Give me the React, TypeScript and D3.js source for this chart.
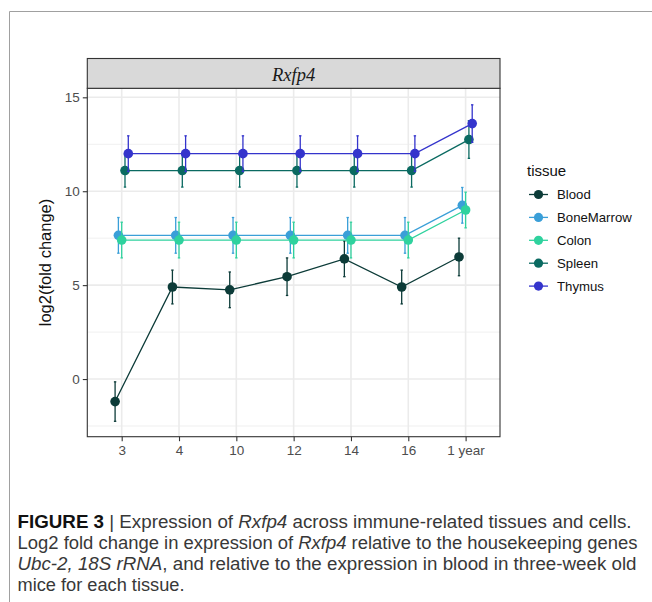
import React, { useEffect, useRef } from 'react';
import * as d3 from 'd3';

const categories = ['3', '4', '10', '12', '14', '16', '1 year'];
const tissues = ['Blood', 'BoneMarrow', 'Colon', 'Spleen', 'Thymus'];
const tissueColors = ['#0c3b38', '#3a9fd8', '#2fd29e', '#0a6a61', '#3434cc'];

const blood = [-1.2, 4.9, 4.75, 5.45, 6.4, 4.9, 6.5];
const bloodErr = [1.05, 0.9, 0.95, 1.0, 0.95, 0.9, 1.0];
const boneMarrow = [7.65, 7.65, 7.65, 7.65, 7.65, 7.65, 9.25];
const boneMarrowErr = [0.95, 0.95, 0.95, 0.95, 0.95, 0.95, 0.95];
const colon = [7.4, 7.4, 7.4, 7.4, 7.4, 7.4, 9.0];
const colonErr = [0.95, 0.95, 0.95, 0.95, 0.95, 0.95, 0.95];
const spleen = [11.1, 11.1, 11.1, 11.1, 11.1, 11.1, 12.75];
const spleenErr = [0.88, 0.88, 0.88, 0.88, 0.88, 0.88, 1.0];
const thymus = [12.0, 12.0, 12.0, 12.0, 12.0, 12.0, 13.6];
const thymusErr = [0.95, 0.95, 0.95, 0.95, 0.95, 0.95, 1.0];

const yTicks = [0, 5, 10, 15];
const yMinor = [-2.5, 2.5, 7.5, 12.5];

const captionLines = [
  [
    { t: 'FIGURE 3', w: 'bold', s: 'normal', c: '#111' },
    { t: ' | Expression of ', w: 'normal', s: 'normal', c: '#383838' },
    { t: 'Rxfp4', w: 'normal', s: 'italic', c: '#383838' },
    { t: ' across immune-related tissues and cells.', w: 'normal', s: 'normal', c: '#383838' },
  ],
  [
    { t: 'Log2 fold change in expression of ', w: 'normal', s: 'normal', c: '#383838' },
    { t: 'Rxfp4', w: 'normal', s: 'italic', c: '#383838' },
    { t: ' relative to the housekeeping genes', w: 'normal', s: 'normal', c: '#383838' },
  ],
  [
    { t: 'Ubc-2, 18S rRNA', w: 'normal', s: 'italic', c: '#383838' },
    { t: ', and relative to the expression in blood in three-week old', w: 'normal', s: 'normal', c: '#383838' },
  ],
  [{ t: 'mice for each tissue.', w: 'normal', s: 'normal', c: '#383838' }],
];
const captionWidths = [614, 620, 619, 167];

export default function App() {
  const svgRef = useRef<SVGSVGElement>(null);

  useEffect(() => {
    const svg = d3.select(svgRef.current);
    svg.selectAll('*').remove();

    const panel = { left: 87.3, right: 500, top: 88.3, bottom: 436.7 };
    const sans = 'Liberation Sans, Arial, Helvetica, sans-serif';

    const series = [
      { values: blood, err: bloodErr },
      { values: boneMarrow, err: boneMarrowErr },
      { values: colon, err: colonErr },
      { values: spleen, err: spleenErr },
      { values: thymus, err: thymusErr },
    ];

    const x = d3
      .scalePoint()
      .domain(categories)
      .range([panel.left, panel.right])
      .padding(0.6);
    const y = d3
      .scaleLinear()
      .domain([-3.07, 15.48])
      .range([panel.bottom, panel.top]);
    const dodge = (i) => (i - 2) * 3.3;

    // outer frame
    svg
      .append('path')
      .attr('d', 'M9.5,602 L9.5,11.5 L652,11.5')
      .attr('fill', 'none')
      .attr('stroke', '#a0a0a0')
      .attr('stroke-width', 1);

    // panel background + grid
    svg
      .append('rect')
      .attr('x', panel.left)
      .attr('y', panel.top)
      .attr('width', panel.right - panel.left)
      .attr('height', panel.bottom - panel.top)
      .attr('fill', '#fff');

    const grid = svg.append('g');
    grid
      .selectAll('.minor')
      .data(yMinor)
      .join('line')
      .attr('x1', panel.left)
      .attr('x2', panel.right)
      .attr('y1', (d) => y(d))
      .attr('y2', (d) => y(d))
      .attr('stroke', '#ececec')
      .attr('stroke-width', 0.8);
    grid
      .selectAll('.major')
      .data(yTicks)
      .join('line')
      .attr('x1', panel.left)
      .attr('x2', panel.right)
      .attr('y1', (d) => y(d))
      .attr('y2', (d) => y(d))
      .attr('stroke', '#ebebeb')
      .attr('stroke-width', 1.6);
    grid
      .selectAll('.xg')
      .data(categories)
      .join('line')
      .attr('x1', (d) => x(d))
      .attr('x2', (d) => x(d))
      .attr('y1', panel.top)
      .attr('y2', panel.bottom)
      .attr('stroke', '#ebebeb')
      .attr('stroke-width', 1.6);

    // series
    const line = d3
      .line()
      .x((d) => d[0])
      .y((d) => d[1]);
    const marks = svg.append('g');
    series.forEach((s, i) => {
      const pts = s.values.map((v, j) => [x(categories[j]) + dodge(i), y(v)]);
      const g = marks.append('g');
      g.append('path')
        .attr('d', line(pts))
        .attr('fill', 'none')
        .attr('stroke', tissueColors[i])
        .attr('stroke-width', 1.3);
      const eb = g
        .selectAll('.eb')
        .data(s.values)
        .join('g')
        .attr('stroke', tissueColors[i])
        .attr('stroke-width', 1.3);
      eb.append('line')
        .attr('x1', (d, j) => x(categories[j]) + dodge(i))
        .attr('x2', (d, j) => x(categories[j]) + dodge(i))
        .attr('y1', (d, j) => y(d + s.err[j]))
        .attr('y2', (d, j) => y(d - s.err[j]));
      [1, -1].forEach((sign) => {
        eb.append('line')
          .attr('x1', (d, j) => x(categories[j]) + dodge(i) - 1.2)
          .attr('x2', (d, j) => x(categories[j]) + dodge(i) + 1.2)
          .attr('y1', (d, j) => y(d + sign * s.err[j]))
          .attr('y2', (d, j) => y(d + sign * s.err[j]));
      });
      g.selectAll('circle')
        .data(pts)
        .join('circle')
        .attr('cx', (d) => d[0])
        .attr('cy', (d) => d[1])
        .attr('r', 4.8)
        .attr('fill', tissueColors[i]);
    });

    // panel border + strip
    svg
      .append('rect')
      .attr('x', panel.left)
      .attr('y', panel.top)
      .attr('width', panel.right - panel.left)
      .attr('height', panel.bottom - panel.top)
      .attr('fill', 'none')
      .attr('stroke', '#333')
      .attr('stroke-width', 1.1);
    svg
      .append('rect')
      .attr('x', panel.left)
      .attr('y', 58.5)
      .attr('width', panel.right - panel.left)
      .attr('height', panel.top - 58.5)
      .attr('fill', '#d9d9d9')
      .attr('stroke', '#333')
      .attr('stroke-width', 1.1);
    svg
      .append('text')
      .attr('x', (panel.left + panel.right) / 2)
      .attr('y', 80.5)
      .attr('text-anchor', 'middle')
      .attr('font-family', 'Liberation Serif, Times New Roman, serif')
      .attr('font-style', 'italic')
      .attr('font-size', 18.5)
      .attr('fill', '#1a1a1a')
      .text('Rxfp4');

    // axes
    const yAxis = svg
      .append('g')
      .attr('transform', `translate(${panel.left},0)`)
      .call(d3.axisLeft(y).tickValues(yTicks).tickSize(4.5).tickPadding(3))
      .attr('font-family', sans)
      .attr('font-size', 13.5);
    yAxis.select('.domain').remove();
    yAxis.selectAll('line').attr('stroke', '#333').attr('stroke-width', 1.1);
    yAxis.selectAll('text').attr('fill', '#4d4d4d');

    const xAxis = svg
      .append('g')
      .attr('transform', `translate(0,${panel.bottom})`)
      .call(d3.axisBottom(x).tickSize(4.5).tickPadding(4))
      .attr('font-family', sans)
      .attr('font-size', 13.5);
    xAxis.select('.domain').remove();
    xAxis.selectAll('line').attr('stroke', '#333').attr('stroke-width', 1.1);
    xAxis.selectAll('text').attr('fill', '#4d4d4d');

    svg
      .append('text')
      .attr('transform', `translate(51,${(panel.top + panel.bottom) / 2}) rotate(-90)`)
      .attr('text-anchor', 'middle')
      .attr('font-family', sans)
      .attr('font-size', 16.5)
      .attr('fill', '#111')
      .text('log2(fold change)');

    // legend
    const legend = svg.append('g');
    legend
      .append('text')
      .attr('x', 527)
      .attr('y', 176)
      .attr('font-family', sans)
      .attr('font-size', 15)
      .attr('fill', '#111')
      .text('tissue');
    const rows = legend
      .selectAll('.row')
      .data(tissues)
      .join('g')
      .attr('transform', (d, i) => `translate(0,${194.5 + i * 22.9})`);
    rows
      .append('line')
      .attr('x1', 529)
      .attr('x2', 548)
      .attr('stroke', (d, i) => tissueColors[i])
      .attr('stroke-width', 1.3);
    rows
      .append('circle')
      .attr('cx', 538.5)
      .attr('r', 4.6)
      .attr('fill', (d, i) => tissueColors[i]);
    rows
      .append('text')
      .attr('x', 557)
      .attr('dy', '0.35em')
      .attr('font-family', sans)
      .attr('font-size', 13.2)
      .attr('fill', '#111')
      .text((d) => d);

    // caption
    captionLines.forEach((parts, li) => {
      const t = svg
        .append('text')
        .attr('x', 17.5)
        .attr('y', 528 + li * 21)
        .attr('font-family', sans)
        .attr('font-size', 17.5)
        .attr('textLength', captionWidths[li])
        .attr('lengthAdjust', 'spacingAndGlyphs');
      parts.forEach((p) => {
        t.append('tspan')
          .attr('font-weight', p.w)
          .attr('font-style', p.s)
          .attr('fill', p.c)
          .text(p.t);
      });
    });
  }, []);

  return (
    <svg
      ref={svgRef}
      width={652}
      height={602}
      style={{ position: 'absolute', left: 0, top: 0, background: '#fff' }}
    />
  );
}
